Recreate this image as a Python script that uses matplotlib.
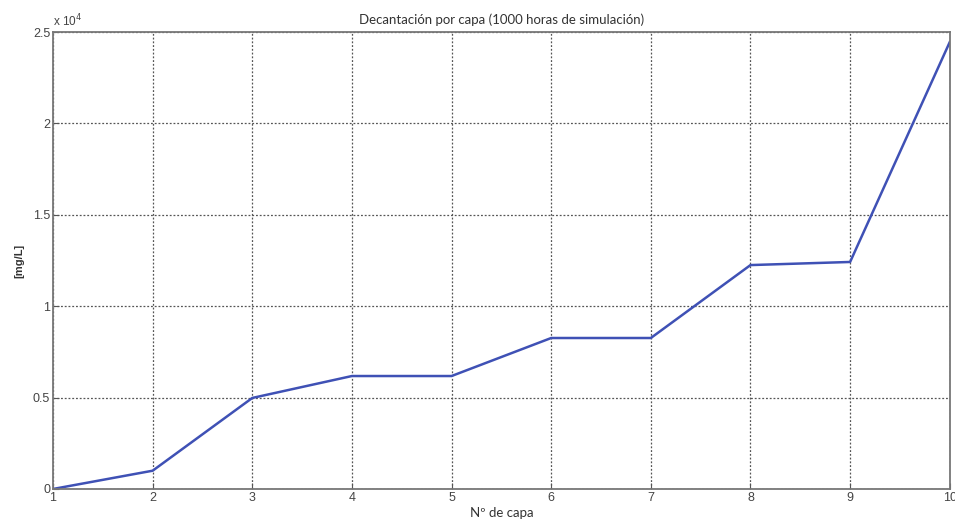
import matplotlib
matplotlib.use("Agg")
import matplotlib.pyplot as plt

capas = [1, 2, 3, 4, 5, 6, 7, 8, 9, 10]
concentracion = [0, 1000, 4980, 6180, 6180, 8260, 8260, 12250, 12420, 24450]
y_ticks = [0, 0.5, 1, 1.5, 2, 2.5]

fig = plt.figure(figsize=(9.55, 5.25), dpi=100)
ax = fig.add_axes([0.0555, 0.0686, 0.939, 0.8704])

ax.plot(capas, [v / 1e4 for v in concentracion], color="#3f51b5", lw=1.8)
ax.set_xlim(1, 10)
ax.set_ylim(0, 2.5)
ax.set_xticks(capas)
ax.set_yticks(y_ticks)
ax.set_yticklabels(["0", "0.5", "1", "1.5", "2", "2.5"])
ax.grid(True, linestyle=(0, (1.5, 1.5)), color="#555555", lw=0.9)
for s in ax.spines.values():
    s.set_color("#777777")
    s.set_linewidth(1.3)
ax.tick_params(direction="in", length=4, color="#555555", labelsize=9,
               labelcolor="#444444", pad=2)
for lab in ax.get_xticklabels() + ax.get_yticklabels():
    lab.set_family("Liberation Sans")

ax.text(0.0, 1.005, "x 10$^4$", transform=ax.transAxes, fontsize=8.5,
        color="#444444", family="Liberation Sans", va="bottom", ha="left")
ax.set_title("Decantación por capa (1000 horas de simulación)", fontsize=9.5,
             color="#333333", family="Lato", pad=6)
ax.set_xlabel("Nº de capa", fontsize=9.5, color="#333333", family="Lato", labelpad=2)
ax.set_ylabel("[mg/L]", fontsize=8, color="#333333", family="Liberation Sans",
              fontweight="bold", labelpad=6)

fig.savefig("out.png", dpi=100)
